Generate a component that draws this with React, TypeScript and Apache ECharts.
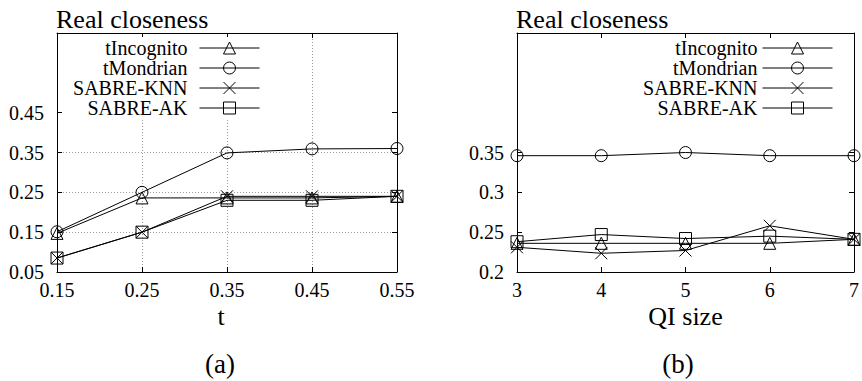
import React, { useEffect, useRef } from 'react';
import * as echarts from 'echarts';

// ---- data ----
const tValues = ['0.15', '0.25', '0.35', '0.45', '0.55'];
const qiSizes = ['3', '4', '5', '6', '7'];
const seriesNames = ['tIncognito', 'tMondrian', 'SABRE-KNN', 'SABRE-AK'];

const leftIncognito = [0.147, 0.236, 0.236, 0.236, 0.24];
const leftMondrian = [0.151, 0.25, 0.349, 0.359, 0.36];
const leftKNN = [0.085, 0.15, 0.24, 0.24, 0.24];
const leftAK = [0.085, 0.15, 0.23, 0.23, 0.24];

const rightIncognito = [0.236, 0.236, 0.236, 0.236, 0.241];
const rightMondrian = [0.346, 0.346, 0.35, 0.346, 0.346];
const rightKNN = [0.231, 0.2235, 0.227, 0.258, 0.241];
const rightAK = [0.238, 0.247, 0.242, 0.245, 0.241];

const leftYTicks = [0.05, 0.15, 0.25, 0.35, 0.45];
const rightYTicks = [0.2, 0.25, 0.3, 0.35];

const titleText = 'Real closeness';
const leftXName = 't';
const rightXName = 'QI size';
const captions = ['(a)', '(b)'];

// ---- styles ----
const FONT = '"Liberation Serif", "Times New Roman", serif';
const SYMBOLS: Record<string, string> = {
  tIncognito: 'path://M5,0L10,8.66L0,8.66Z',
  tMondrian: 'path://M0,5A5,5,0,1,1,10,5A5,5,0,1,1,0,5Z',
  'SABRE-KNN': 'path://M0,0L10,10M10,0L0,10',
  'SABRE-AK': 'path://M0,0L10,0L10,10L0,10Z',
};

function mkSeries(name: string, data: number[], idx: number) {
  return {
    type: 'line',
    name,
    xAxisIndex: idx * 2,
    yAxisIndex: idx * 2,
    data,
    symbol: SYMBOLS[name],
    symbolSize: 12,
    showAllSymbol: true,
    lineStyle: { color: '#000', width: 1 },
    itemStyle: { color: 'rgba(0,0,0,0)', borderColor: '#000', borderWidth: 1 },
    emphasis: { disabled: true },
    z: 3,
  };
}

const axisLine = { show: true, lineStyle: { color: '#000', width: 1 } };
const tickIn = { show: true, inside: true, length: 5, lineStyle: { color: '#000', width: 1 } };
const labelStyle = { fontFamily: FONT, fontSize: 20, color: '#000' };
const gridGray = '#9a9a9a';

function xAxes(gridIndex: number, data: string[], name: string, grid: boolean, namePad: number[]) {
  return [
    {
      gridIndex,
      type: 'category',
      data,
      boundaryGap: false,
      position: 'bottom',
      axisLine,
      axisTick: { ...tickIn, interval: 0 },
      axisLabel: { ...labelStyle, interval: 0, margin: 10, lineHeight: 16 },
      splitLine: {
        show: grid,
        interval: 0,
        lineStyle: { type: [1, 2], width: 1, color: ['transparent', gridGray, gridGray, gridGray, 'transparent'] },
      },
      name,
      nameLocation: 'middle',
      nameGap: 33,
      nameMoveOverlap: false,
      nameTextStyle: { fontFamily: FONT, fontSize: 26, lineHeight: 22, color: '#000', padding: namePad },
    },
    {
      gridIndex,
      type: 'category',
      data,
      boundaryGap: false,
      position: 'top',
      axisLine,
      axisTick: { ...tickIn, interval: 0 },
      axisLabel: { show: false },
      splitLine: { show: false },
    },
  ];
}

function yAxes(gridIndex: number, min: number, max: number, ticks: number[], grid: boolean) {
  return [
    {
      gridIndex,
      type: 'value',
      min,
      max,
      position: 'left',
      axisLine,
      axisTick: { ...tickIn, customValues: ticks },
      axisLabel: { ...labelStyle, margin: 13, customValues: ticks },
      splitLine: {
        show: grid,
        showMinLine: false,
        showMaxLine: false,
        lineStyle: { type: [1, 2], width: 1, color: gridGray },
      },
    },
    {
      gridIndex,
      type: 'value',
      min,
      max,
      position: 'right',
      axisLine,
      axisTick: { ...tickIn, customValues: ticks },
      axisLabel: { show: false },
      splitLine: { show: false },
    },
  ];
}

function legend(right: number, top: number, itemWidth: number, padding: number[], bg: string, gap: number) {
  return {
    data: seriesNames,
    orient: 'vertical',
    align: 'right',
    right,
    top,
    itemWidth,
    itemHeight: 15,
    itemGap: 0,
    padding,
    backgroundColor: bg,
    selectedMode: false,
    textStyle: { fontFamily: FONT, fontSize: 20, color: '#000', lineHeight: 20, padding: [0, gap, 0, 0] },
    lineStyle: { color: '#000', width: 1 },
    itemStyle: { color: 'rgba(0,0,0,0)', borderColor: '#000', borderWidth: 1 },
  };
}

export default function App() {
  const ref = useRef<HTMLDivElement>(null);
  useEffect(() => {
    document.body.style.margin = '0';
    if (!ref.current) return;
    const chart = echarts.init(ref.current, undefined, { renderer: 'svg' });
    const titleStyle = { fontFamily: FONT, fontSize: 26, fontWeight: 'normal', color: '#000' };
    chart.setOption({
      animation: false,
      backgroundColor: '#fff',
      title: [
        { text: titleText, left: 56, top: 6, padding: 0, textStyle: titleStyle },
        { text: titleText, left: 516, top: 6, padding: 0, textStyle: titleStyle },
      ],
      grid: [
        { left: 57, right: 862 - 397, top: 33, bottom: 381 - 272, containLabel: false },
        { left: 517, right: 862 - 858, top: 33, bottom: 381 - 272, containLabel: false },
      ],
      legend: [
        legend(862 - 272, 37, 60, [1, 12, 0, 11], '#fff', 7),
        legend(862 - 833, 38, 70, [0, 0, 0, 0], 'transparent', 0),
      ],
      xAxis: [
        ...xAxes(0, tValues, leftXName, true, [0, 12, 0, 0]),
        ...xAxes(1, qiSizes, rightXName, false, [0, 0, 0, 0]),
      ],
      yAxis: [
        ...yAxes(0, 0.05, 0.65, leftYTicks, true),
        ...yAxes(1, 0.2, 0.5, rightYTicks, false),
      ],
      graphic: [
        { type: 'text', x: 220, y: 364, style: { text: captions[0], align: 'center', verticalAlign: 'middle', fontFamily: FONT, fontSize: 27, fill: '#000' } },
        { type: 'text', x: 678, y: 364, style: { text: captions[1], align: 'center', verticalAlign: 'middle', fontFamily: FONT, fontSize: 27, fill: '#000' } },
      ],
      series: [
        mkSeries('tIncognito', leftIncognito, 0),
        mkSeries('tMondrian', leftMondrian, 0),
        mkSeries('SABRE-KNN', leftKNN, 0),
        mkSeries('SABRE-AK', leftAK, 0),
        mkSeries('tIncognito', rightIncognito, 1),
        mkSeries('tMondrian', rightMondrian, 1),
        mkSeries('SABRE-KNN', rightKNN, 1),
        mkSeries('SABRE-AK', rightAK, 1),
      ],
    });
    return () => chart.dispose();
  }, []);
  return <div ref={ref} style={{ width: 862, height: 381 }} />;
}
